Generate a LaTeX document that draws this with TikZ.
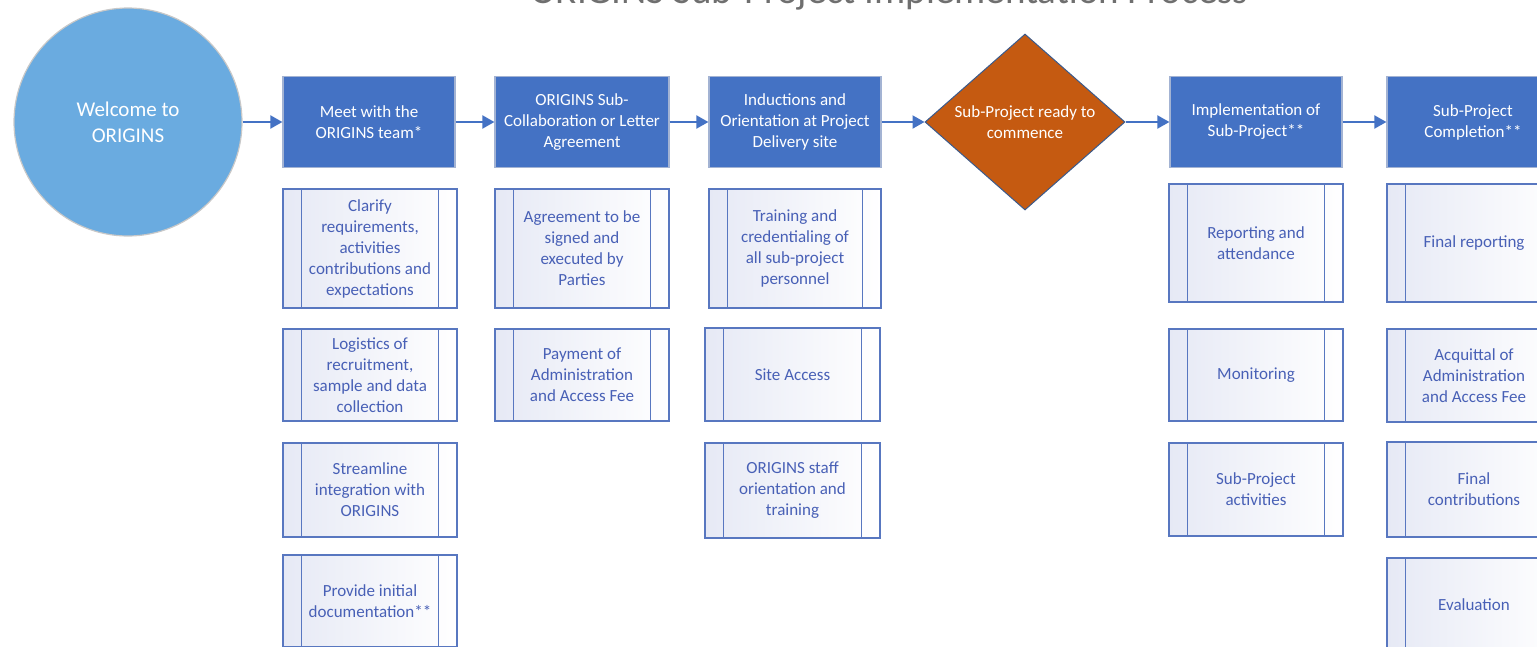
\documentclass[tikz,border=0pt]{standalone}
\usepackage{fontspec}
\setmainfont{Carlito}
\usetikzlibrary{shapes.geometric,arrows.meta}
\definecolor{hdrblue}{HTML}{4472C4}
\definecolor{hdrline}{HTML}{A3B3D3}
\definecolor{subline}{HTML}{5877C0}
\definecolor{subtext}{HTML}{4860B6}
\definecolor{subfill}{HTML}{E6E9F5}
\definecolor{circfill}{HTML}{6AABE0}
\definecolor{circline}{HTML}{C8C8C8}
\definecolor{diafill}{HTML}{C55A11}
\definecolor{dialine}{HTML}{3A5A8C}
\definecolor{titlegray}{HTML}{6F6F6F}
\tikzset{
  txt/.style={font=\fontsize{17}{21}\selectfont},
  hdr/.style={rectangle, draw=hdrline, line width=1.2pt, fill=hdrblue, text=white,
    minimum height=91pt, align=center, inner sep=0pt, txt},
  sub/.style={rectangle, draw=subline, line width=1.5pt, left color=subfill, right color=white,
    text=subtext, align=center, inner sep=0pt, txt,
    path picture={\draw[subline, line width=1.5pt]
      ([xshift=18.5pt]path picture bounding box.north west) -- ([xshift=18.5pt]path picture bounding box.south west)
      ([xshift=-18.5pt]path picture bounding box.north east) -- ([xshift=-18.5pt]path picture bounding box.south east);}},
  flow/.style={draw=hdrblue, line width=2pt, -{Triangle[length=12pt,width=13pt]}},
}
\begin{document}
\begin{tikzpicture}[x=1pt, y=-1pt]
\path[use as bounding box, fill=white] (0,0) rectangle (1537,646);
\clip (0,0) rectangle (1537,646);

\node[font=\fontsize{39}{46}\selectfont, text=titlegray, anchor=base, inner sep=0pt] (title) at (889,3.5) {ORIGINS Sub-Project Implementation Process};

\node[circle, minimum size=228pt, inner sep=0pt, fill=circfill, draw=circline, line width=1.2pt,
  text=white, align=center, font=\fontsize{21}{26}\selectfont] (circ) at (128,122) {Welcome to\\ORIGINS};

\node[hdr, minimum width=172pt] (h1) at (369,122) {Meet with the\\ORIGINS team*};
\node[hdr, minimum width=174pt] (h2) at (582,122) {ORIGINS Sub-\\Collaboration or Letter\\Agreement};
\node[hdr, minimum width=172pt] (h3) at (795,122) {Inductions and\\Orientation at Project\\Delivery site};
\node[diamond, draw=dialine, line width=1pt, fill=diafill, minimum width=200pt, minimum height=176pt,
  inner sep=0pt, text=white, align=center, txt] (dia) at (1025,122) {Sub-Project ready to\\commence};
\node[hdr, minimum width=172pt] (h5) at (1256,122) {Implementation of\\Sub-Project**};
\node[hdr, minimum width=172pt] (h6) at (1473,122) {Sub-Project\\Completion**};

\draw[flow] (circ) -- (h1);
\draw[flow] (h1) -- (h2);
\draw[flow] (h2) -- (h3);
\draw[flow] (h3) -- (dia);
\draw[flow] (dia) -- (h5);
\draw[flow] (h5) -- (h6);

% column 1
\node[sub, minimum width=174pt, minimum height=119pt] (c1a) at (370,248.5) {Clarify\\requirements,\\activities\\contributions and\\expectations};
\node[sub, minimum width=174pt, minimum height=92pt] (c1b) at (370,375) {Logistics of\\recruitment,\\sample and data\\collection};
\node[sub, minimum width=174pt, minimum height=94pt] (c1c) at (370,490) {Streamline\\integration with\\ORIGINS};
\node[sub, minimum width=174pt, minimum height=92pt] (c1d) at (370,601) {Provide initial\\documentation**};
% column 2
\node[sub, minimum width=174pt, minimum height=119pt] (c2a) at (582,248.5) {Agreement to be\\signed and\\executed by\\Parties};
\node[sub, minimum width=174pt, minimum height=92pt] (c2b) at (582,375) {Payment of\\Administration\\and Access Fee};
% column 3
\node[sub, minimum width=172pt, minimum height=119pt] (c3a) at (795,248.5) {Training and\\credentialing of\\all sub-project\\personnel};
\node[sub, minimum width=175pt, minimum height=93pt] (c3b) at (792.5,374.5) {Site Access};
\node[sub, minimum width=175pt, minimum height=95pt] (c3c) at (792.5,490.5) {ORIGINS staff\\orientation and\\training};
% column 5
\node[sub, minimum width=174pt, minimum height=118pt] (c5a) at (1256,243) {Reporting and\\attendance};
\node[sub, minimum width=174pt, minimum height=92pt] (c5b) at (1256,375) {Monitoring};
\node[sub, minimum width=174pt, minimum height=93pt] (c5c) at (1256,489.5) {Sub-Project\\activities};
% column 6
\node[sub, minimum width=174pt, minimum height=118pt] (c6a) at (1474,243) {Final reporting};
\node[sub, minimum width=174pt, minimum height=93pt] (c6b) at (1474,375.5) {Acquittal of\\Administration\\and Access Fee};
\node[sub, minimum width=174pt, minimum height=95pt] (c6c) at (1474,489.5) {Final\\contributions};
\node[sub, minimum width=174pt, minimum height=93pt] (c6d) at (1474,604.5) {Evaluation};
\end{tikzpicture}
\end{document}
